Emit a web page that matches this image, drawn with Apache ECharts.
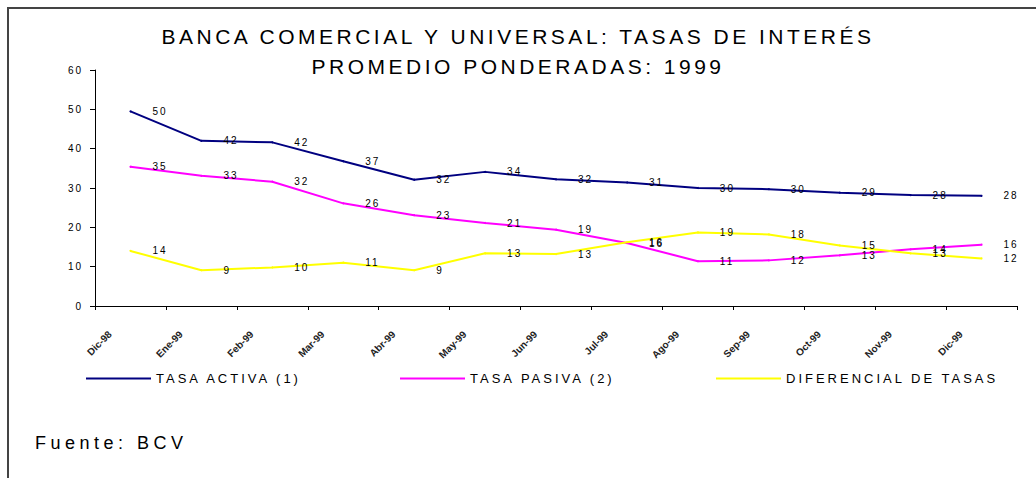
<!DOCTYPE html>
<html>
<head>
<meta charset="utf-8">
<script src="https://cdn.jsdelivr.net/npm/echarts@6/dist/echarts.min.js"></script>
<style>
html,body{margin:0;padding:0;background:#fff;}
#c{width:1036px;height:478px;}
</style>
</head>
<body>
<div id="c"></div>
<script>
const categories = ['Dic-98','Ene-99','Feb-99','Mar-99','Abr-99','May-99','Jun-99','Jul-99','Ago-99','Sep-99','Oct-99','Nov-99','Dic-99'];
const tasaActiva  = [49.5, 42.0, 41.6, 36.8, 32.1, 34.1, 32.2, 31.4, 30.0, 29.7, 28.8, 28.2, 28.0];
const tasaPasiva  = [35.4, 33.1, 31.6, 26.1, 23.1, 21.1, 19.4, 16.0, 11.4, 11.6, 12.9, 14.4, 15.6];
const diferencial = [14.0, 9.1, 9.8, 11.0, 9.1, 13.4, 13.2, 16.2, 18.7, 18.2, 15.4, 13.4, 12.1];
const seriesNames = ['TASA ACTIVA (1)', 'TASA PASIVA (2)', 'DIFERENCIAL DE TASAS'];
const seriesColors = ['#000080', '#FF00FF', '#FFFF00'];
const titleText = 'BANCA COMERCIAL Y UNIVERSAL: TASAS DE INTERÉS\nPROMEDIO PONDERADAS: 1999';
const sourceText = 'Fuente: BCV';

const FONT = '"Liberation Sans", Arial, sans-serif';
const chart = echarts.init(document.getElementById('c'), null, {renderer: 'svg'});

function makeSeries(name, data, color) {
  return {
    type: 'line',
    name: name,
    data: data,
    symbol: 'circle',
    symbolSize: 2,
    itemStyle: {color: color},
    lineStyle: {color: color, width: 2},
    label: {
      show: true,
      position: 'right',
      distance: 21,
      fontSize: 10,
      fontFamily: FONT,
      color: '#000',
      formatter: p => String(Math.round(p.value))
    }
  };
}

function legendItem(name, left) {
  return {
    data: [name],
    left: left,
    top: 372,
    icon: 'rect',
    itemWidth: 65,
    itemHeight: 2,
    selectedMode: false,
    padding: 0,
    textStyle: {fontSize: 13, color: '#000', fontFamily: FONT}
  };
}

chart.setOption({
  animation: false,
  backgroundColor: '#fff',
  textStyle: {fontFamily: FONT},
  title: [
    {
      text: titleText,
      left: 'center',
      top: 21,
      padding: 0,
      textStyle: {fontSize: 21, fontWeight: 'normal', color: '#000', lineHeight: 30, fontFamily: FONT}
    },
    {
      text: sourceText,
      left: 35,
      top: 434,
      padding: 0,
      textStyle: {fontSize: 18, fontWeight: 'normal', color: '#000', fontFamily: FONT}
    }
  ],
  legend: [
    legendItem(seriesNames[0], 86),
    legendItem(seriesNames[1], 400),
    legendItem(seriesNames[2], 716)
  ],
  graphic: [{
    type: 'rect',
    silent: true,
    shape: {x: 8, y: 8, width: 1100, height: 600},
    style: {fill: 'none', stroke: '#444', lineWidth: 2}
  }],
  grid: {left: 95, right: 19, top: 70, bottom: 172},
  xAxis: {
    type: 'category',
    data: categories,
    boundaryGap: true,
    axisLine: {lineStyle: {color: '#000', width: 1}},
    axisTick: {show: true, length: 4, lineStyle: {color: '#000'}},
    axisLabel: {
      interval: 0,
      rotate: 45,
      fontSize: 10,
      fontWeight: 'bold',
      color: '#222',
      margin: 6,
      padding: [0, 29, 0, 0],
      fontFamily: FONT
    },
    splitLine: {show: false}
  },
  yAxis: {
    type: 'value',
    min: 0,
    max: 60,
    interval: 10,
    axisLine: {show: true, lineStyle: {color: '#000', width: 1}},
    axisTick: {show: true, length: 5, lineStyle: {color: '#000'}},
    axisLabel: {fontSize: 10, color: '#000', margin: 12, fontFamily: FONT},
    splitLine: {show: false}
  },
  series: [
    makeSeries(seriesNames[0], tasaActiva, seriesColors[0]),
    makeSeries(seriesNames[1], tasaPasiva, seriesColors[1]),
    makeSeries(seriesNames[2], diferencial, seriesColors[2])
  ]
});

function applySpacing() {
  document.querySelectorAll('#c svg text').forEach(t => {
    const cs = getComputedStyle(t);
    const fs = parseFloat(cs.fontSize);
    const bold = parseInt(cs.fontWeight, 10) >= 600;
    let ls = 0;
    if (bold) ls = 0;
    else if (fs >= 20) ls = 3.5;
    else if (fs >= 17) ls = 4.5;
    else if (fs >= 12.5) ls = 3;
    else if (fs >= 9.5) ls = 2;
    t.style.letterSpacing = ls + 'px';
  });
}
applySpacing();
chart.on('finished', applySpacing);
requestAnimationFrame(applySpacing);
setTimeout(applySpacing, 50);
</script>
</body>
</html>
